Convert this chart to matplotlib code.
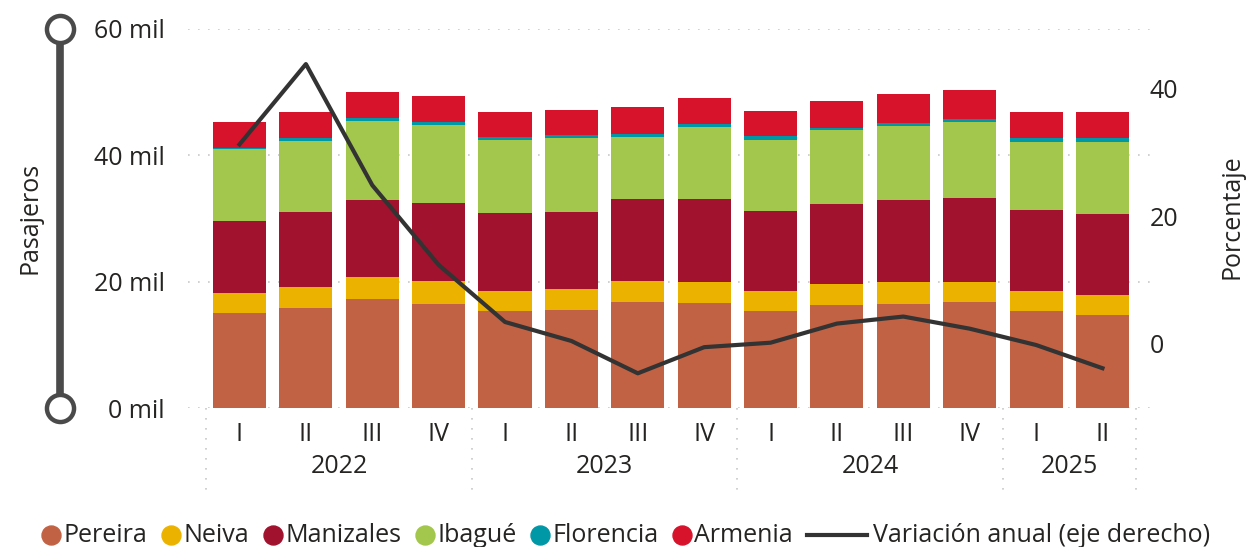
import matplotlib.pyplot as plt
import matplotlib.transforms as mtransforms
from matplotlib.lines import Line2D
import numpy as np

plt.rcParams['font.family'] = ['Open Sans', 'DejaVu Sans']

quarters = ['I', 'II', 'III', 'IV', 'I', 'II', 'III', 'IV', 'I', 'II', 'III', 'IV', 'I', 'II']
years = ['2022', '2023', '2024', '2025']
year_sizes = [4, 4, 4, 2]

# miles de pasajeros
pereira = [15.0, 15.8, 17.25, 16.45, 15.35, 15.5, 16.8, 16.6, 15.35, 16.3, 16.45, 16.8, 15.35, 14.75]
neiva = [3.2, 3.3, 3.5, 3.65, 3.15, 3.3, 3.3, 3.3, 3.15, 3.3, 3.5, 3.15, 3.15, 3.15]
manizales = [11.4, 11.9, 12.2, 12.35, 12.35, 12.2, 13.0, 13.15, 12.7, 12.7, 13.0, 13.3, 12.85, 12.8]
ibague = [11.35, 11.25, 12.5, 12.35, 11.55, 11.75, 9.8, 11.4, 11.25, 11.65, 11.65, 12.05, 10.75, 11.4]
florencia = [0.25, 0.45, 0.5, 0.45, 0.5, 0.45, 0.45, 0.5, 0.6, 0.35, 0.5, 0.45, 0.65, 0.65]
armenia = [4.1, 4.1, 4.1, 4.15, 3.95, 4.0, 4.3, 4.05, 3.95, 4.3, 4.6, 4.6, 4.1, 4.1]
variacion = [31.3, 43.9, 24.9, 12.4, 3.45, 0.47, -4.6, -0.5, 0.2, 3.2, 4.3, 2.4, -0.16, -3.8]

series = [('Pereira', pereira, '#C26244'),
          ('Neiva', neiva, '#EBB300'),
          ('Manizales', manizales, '#A0122D'),
          ('Ibagué', ibague, '#A2C74C'),
          ('Florencia', florencia, '#0097A7'),
          ('Armenia', armenia, '#D7132C')]
line_label = 'Variación anual (eje derecho)'

W, H = 1246, 547
FS = 18
TXT = '#252423'
LINE_C = '#333333'
fig = plt.figure(figsize=(W / 100, H / 100), dpi=100)
ax = fig.add_axes([188 / W, (H - 408) / H, (1150 - 188) / W, (408 - 29) / H])

x = np.arange(len(quarters))
bottom = np.zeros(len(x))
for name, vals, col in series:
    ax.bar(x, vals, width=0.8, bottom=bottom, color=col, label=name, zorder=2)
    bottom += np.array(vals)

ax.set_xlim(-0.776, 13.716)
ax.set_ylim(0, 60)
ax.set_yticks([0, 20, 40, 60])
ax.set_yticklabels(['0 mil', '20 mil', '40 mil', '60 mil'])
ax.tick_params(axis='y', length=0, pad=16.5, labelsize=FS, labelcolor=TXT)
ax.grid(axis='y', color='#c8c8c8', linestyle=(0, (1, 5)), linewidth=1.2, zorder=0)
for s in ax.spines.values():
    s.set_visible(False)

ax.set_xticks(x)
ax.set_xticklabels(quarters)
ax.tick_params(axis='x', length=0, pad=10, labelsize=FS, labelcolor=TXT)

# year labels and separators
trans = mtransforms.blended_transform_factory(ax.transData, ax.transAxes)
start = 0
bounds = [-0.5]
for yr, n in zip(years, year_sizes):
    ax.text(start + (n - 1) / 2, -0.155, yr, transform=trans, ha='center', va='center',
            fontsize=FS, color=TXT)
    start += n
    bounds.append(start - 0.5)
for b in bounds:
    ax.add_line(Line2D([b, b], [0, -0.22], transform=trans, color='#c8c8c8',
                       linestyle=(0, (1, 5)), linewidth=1.2, clip_on=False))

# right axis
ax2 = ax.twinx()
ax2.plot(x, variacion, color=LINE_C, linewidth=3, zorder=5)
ax2.set_ylim(-10.04, 49.4)
ax2.set_yticks([0, 20, 40])
ax2.tick_params(axis='y', length=0, pad=0, labelsize=FS, labelcolor=TXT)
for s in ax2.spines.values():
    s.set_visible(False)

# axis titles
fig.text(30 / W, 1 - 218 / H, 'Pasajeros', rotation=90, ha='center', va='center',
         fontsize=FS, color=TXT)
fig.text(1232 / W, 1 - 217 / H, 'Porcentaje', rotation=90, ha='center', va='center',
         fontsize=FS, color=TXT)

# left decoration bar
fig.add_artist(Line2D([60 / W, 60 / W], [1 - 29 / H, 1 - 408 / H], transform=fig.transFigure,
                      color='#4a4a4a', linewidth=5.5, solid_capstyle='butt'))
for yy in (29, 408):
    fig.add_artist(Line2D([60 / W], [1 - yy / H], transform=fig.transFigure, marker='o',
                          markersize=19.5, markerfacecolor='white', markeredgecolor='#4a4a4a',
                          markeredgewidth=3.2, linestyle='none'))

# legend, laid out by hand (pixels)
renderer = fig.canvas.get_renderer()
ly = 1 - 535 / H
dot, dot_gap, line_len, line_gap, sep = 19, 3, 60, 6, 14
entries = [(n, c, 'dot') for n, _, c in series] + [(line_label, LINE_C, 'line')]
texts = []
for lab, c, kind in entries:
    t = fig.text(0, ly, lab, fontsize=FS, color=TXT, va='center', ha='left')
    texts.append(t)
widths = [t.get_window_extent(renderer).width for t in texts]
total = 0
for (lab, c, kind), w in zip(entries, widths):
    total += (dot + dot_gap if kind == 'dot' else line_len + line_gap) + w
total += sep * (len(entries) - 1)
cx = 626 - total / 2
for (lab, c, kind), w, t in zip(entries, widths, texts):
    if kind == 'dot':
        fig.add_artist(Line2D([(cx + dot / 2) / W], [ly], transform=fig.transFigure, marker='o',
                              markersize=dot / 1.39, markerfacecolor=c, markeredgecolor=c,
                              linestyle='none'))
        cx += dot + dot_gap
    else:
        fig.add_artist(Line2D([cx / W, (cx + line_len) / W], [ly, ly], transform=fig.transFigure,
                              color=c, linewidth=3))
        cx += line_len + line_gap
    t.set_x(cx / W)
    cx += w + sep

fig.savefig('out.png', dpi=100)
